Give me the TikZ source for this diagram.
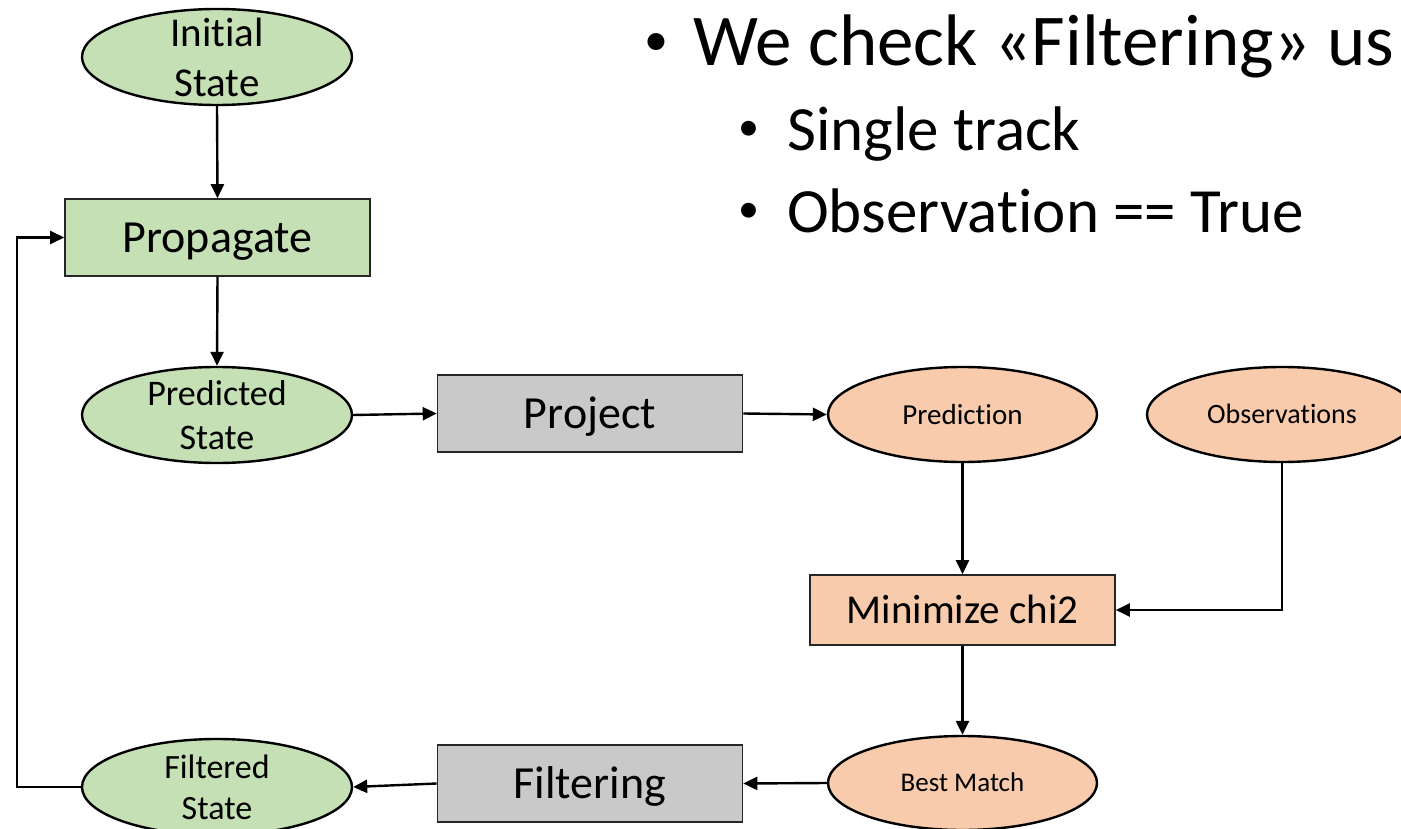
\documentclass[tikz,border=0pt]{standalone}
\usepackage{fontspec}
\setmainfont{Carlito}[Ligatures={NoCommon}]
\usetikzlibrary{shapes.geometric,arrows.meta}
\definecolor{sgreen}{HTML}{C5E0B4}
\definecolor{sorange}{HTML}{F8CBAD}
\definecolor{sgray}{HTML}{C9C9C9}
\tikzset{
  state/.style={ellipse, draw=black, line width=2.4pt, fill=sgreen, minimum width=270pt, minimum height=96pt, inner sep=0pt},
  meas/.style={ellipse, draw=black, line width=2.4pt, fill=sorange, minimum width=269pt, minimum height=95pt, inner sep=0pt},
  proc/.style={rectangle, draw=black!85, line width=1.6pt, minimum width=305pt, minimum height=77pt, inner sep=0pt},
  conn/.style={line width=2.4pt, -{Triangle[length=14pt,width=13pt]}},
  txt/.style={align=center, inner sep=0pt},
  bigtxt/.style={font=\fontsize{46}{50}\selectfont, text height=41pt, text depth=11.5pt},
}
\begin{document}
\begin{tikzpicture}[x=1pt,y=-1pt]
\useasboundingbox (0,0) rectangle (1401,829);
\fill[white] (0,0) rectangle (1401,829);
\clip (0,0) rectangle (1401,829);

% top text
\node[anchor=center, inner sep=0pt, font=\fontsize{48}{50}\selectfont] (b1) at (656,45) {•};
\node[anchor=base west, inner sep=0pt, font=\fontsize{73}{80}\selectfont] (t1) at (693,66) {We check «Filtering» us};
\node[anchor=center, inner sep=0pt, font=\fontsize{42}{44}\selectfont] (b2) at (749,131) {•};
\node[anchor=base west, inner sep=0pt, font=\fontsize{63}{70}\selectfont] (t2) at (787,151) {Single track};
\node[anchor=center, inner sep=0pt, font=\fontsize{42}{44}\selectfont] (b3) at (749,213) {•};
\node[anchor=base west, inner sep=0pt, font=\fontsize{63}{70}\selectfont] (t3) at (787,233) {Observation == True};

% nodes
\node[state] (init) at (217,57) {};
\node[txt, font=\fontsize{41}{50}\selectfont] (initT) at (init.center) {Initial\\State};

\node[proc, fill=sgreen, bigtxt] (prop) at (217.5,237.5) {Propagate};

\node[state] (pred) at (217,415) {};
\node[txt, font=\fontsize{36}{44}\selectfont] (predT) at (pred.center) {Predicted\\State};

\node[proc, fill=sgray, bigtxt] (proj) at (590,413.5) {Project};

\node[meas] (predn) at (962.5,414.5) {};
\node[txt, font=\fontsize{29}{34}\selectfont, text height=26pt, text depth=7pt] (prednT) at (predn.center) {Prediction};

\node[meas, minimum width=270pt] (obs) at (1282,414.5) {};
\node[txt, font=\fontsize{28}{34}\selectfont, text height=25pt, text depth=7pt] (obsT) at (obs.center) {Observations};

\node[proc, fill=sorange, minimum height=70pt, font=\fontsize{41}{48}\selectfont, text height=37pt, text depth=10pt] (chi) at (962.5,610) {Minimize chi2};

\node[meas, minimum height=94pt] (best) at (962.5,783) {};
\node[txt, font=\fontsize{27}{32}\selectfont, text height=24pt, text depth=6.5pt] (bestT) at (best.center) {Best Match};

\node[proc, fill=sgray, bigtxt] (filt) at (590,783.5) {Filtering};

\node[state] (fstate) at (217,787) {};
\node[txt, font=\fontsize{34}{41}\selectfont] (fstateT) at (fstate.center) {Filtered\\State};

\coordinate (loopc) at (17,500);

% connectors
\draw[conn] (init.south) -- (prop.north);
\draw[conn] (prop.south) -- (pred.north);
\draw[conn] (pred.east) -- (proj.west);
\draw[conn] (proj.east) -- (predn.west);
\draw[conn] (predn.south) -- (chi.north);
\draw[conn] (obs.south) |- (chi.east);
\draw[conn] (chi.south) -- (best.north);
\draw[conn] (best.west) -- (filt.east);
\draw[conn] (filt.west) -- (fstate.east);
\draw[conn] (fstate.west) -| (loopc) |- (prop.west);
\end{tikzpicture}
\end{document}
